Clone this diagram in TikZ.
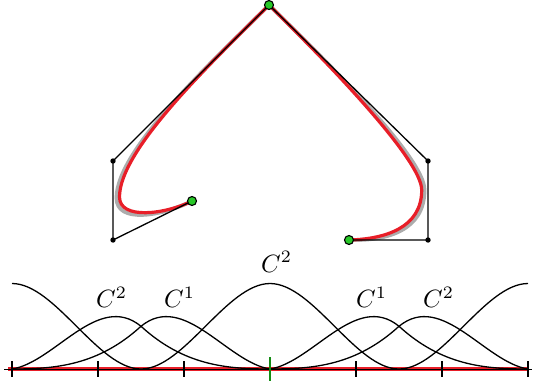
\documentclass[tikz,border=0pt]{standalone}
\definecolor{curvered}{RGB}{232,30,40}
\definecolor{curvegray}{RGB}{172,172,172}
\definecolor{dotgreen}{RGB}{40,200,40}
\definecolor{tickgreen}{RGB}{20,140,20}
\begin{document}
\begin{tikzpicture}[x=1pt,y=-1pt,
  polyline/.style={line width=1.3pt,black,line join=round},
  redcurve/.style={line width=3.2pt,curvered,line join=round},
  graycurve/.style={line width=3.8pt,curvegray,line join=round},
  basis/.style={line width=1.3pt,black},
  blackdot/.style={fill=black},
  greendot/.style={fill=dotgreen,draw=black,line width=1.1pt},
  lbl/.style={inner sep=0pt,anchor=base west},
  tickmark/.style={line width=1.1pt,black}]
\useasboundingbox (0,0) rectangle (535,389);
% control points
\coordinate (Q0) at (192,201);
\coordinate (P0) at (113,240);
\coordinate (P1) at (113,161);
\coordinate (P2) at (269,5);
\coordinate (P3) at (428,161);
\coordinate (P4) at (428,240);
\coordinate (Q6) at (349,240);
% gray curve
\draw[graycurve] (Q0) .. controls (162,216) and (116.5,224) .. (116.5,198)
  .. controls (116.5,150) and (209,65) .. (P2)
  .. controls (329.6,64.5) and (424.5,158) .. (424.5,190)
  .. controls (424.5,230) and (388,241) .. (Q6);
% red curve
\draw[redcurve] (Q0) .. controls (165,214.5) and (119.5,220) .. (119.5,197)
  .. controls (119.5,150) and (209,65) .. (P2)
  .. controls (329.6,64.5) and (421.7,160) .. (421.7,190)
  .. controls (421.7,228) and (385,239) .. (Q6);
% control polygon
\draw[polyline] (Q0) -- (P0) -- (P1) -- (P2) -- (P3) -- (P4) -- (Q6);
\foreach \p in {P0,P1,P3,P4} \fill[blackdot] (\p) circle (2.7pt);
\foreach \p in {Q0,P2,Q6} \filldraw[greendot] (\p) circle (4.5pt);
% axis
\coordinate (axL) at (4,369);
\coordinate (axR) at (532,369);
\coordinate (rdL) at (8,369);
\coordinate (rdR) at (528,369);
\draw[line width=4.5pt,curvered] (rdL) -- (rdR);
\draw[line width=0.9pt,black] (axL) -- (axR);
% basis functions
\draw[basis] (12,283.5) .. controls (55,283.5) and (98,369) .. (141,369);
\draw[basis] (12,369) .. controls (55,362.2) and (98,291.2) .. (141,326.25)
  .. controls (184,365.6) and (227,369) .. (270,369);
\draw[basis] (12,369) .. controls (55,369) and (98,365.6) .. (141,326.25)
  .. controls (184,291.2) and (227,362.2) .. (270,369);
\draw[basis] (141,369) .. controls (184,369) and (227,283.5) .. (270,283.5)
  .. controls (313,283.5) and (356,369) .. (399,369);
\draw[basis] (270,369) .. controls (313,362.2) and (356,291.2) .. (399,326.25)
  .. controls (442,365.6) and (485,369) .. (528,369);
\draw[basis] (270,369) .. controls (313,369) and (356,365.6) .. (399,326.25)
  .. controls (442,291.2) and (485,362.2) .. (528,369);
\draw[basis] (399,369) .. controls (442,369) and (485,283.5) .. (528,283.5);
% ticks
\foreach \x in {12,98,184,356,442,528} \draw[tickmark] (\x,361) -- (\x,377);
\draw[line width=2.5pt,tickgreen] (270,357) -- (270,381);
% labels
\node[lbl] (l1) at (96,307.5) {\scalebox{2.5}{$C^2$}};
\node[lbl] (l2) at (164,307.5) {\scalebox{2.5}{$C^1$}};
\node[lbl] (l3) at (261,272) {\scalebox{2.5}{$C^2$}};
\node[lbl] (l4) at (356,307.5) {\scalebox{2.5}{$C^1$}};
\node[lbl] (l5) at (423,307.5) {\scalebox{2.5}{$C^2$}};
\end{tikzpicture}
\end{document}
